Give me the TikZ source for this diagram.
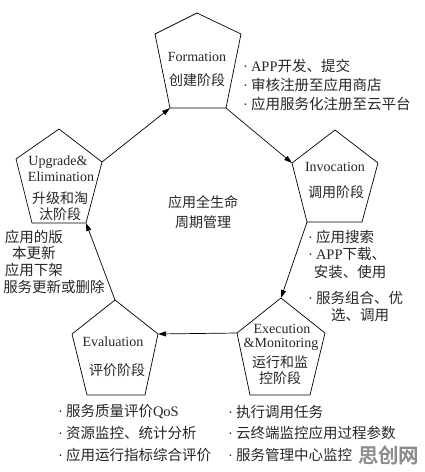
\documentclass[tikz,border=0pt]{standalone}
\usepackage{fontspec}
\setmainfont{Liberation Serif}
\newfontfamily\cjk{Noto Sans CJK SC}
\newfontfamily\cjkbold[FakeBold=3]{Noto Sans CJK SC}
\usetikzlibrary{arrows.meta}
\tikzset{
  pent/.style={draw=black, line width=0.7pt},
  conn/.style={draw=black, line width=0.7pt, -{Triangle[length=8pt,width=5pt]}},
  lbl/.style={inner sep=0pt, text=black!85, font=\fontsize{14}{16}\selectfont},
  item/.style={inner sep=0pt, anchor=west, text=black!85, font=\fontsize{14.5}{17}\selectfont},
  itemc/.style={inner sep=0pt, text=black!85, font=\fontsize{14.5}{17}\selectfont},
  wm/.style={inner sep=0pt, anchor=west, text=black!45, font=\fontsize{20}{22}\selectfont\cjkbold}
}
\begin{document}
\begin{tikzpicture}[x=1pt,y=-1pt]
\useasboundingbox (0,0) rectangle (424,472);
% Formation
\coordinate (Ft) at (197,13); \coordinate (Fl) at (155,34); \coordinate (Fr) at (241,34);
\coordinate (Fbl) at (170,108); \coordinate (Fbr) at (226,108);
% Invocation
\coordinate (It) at (335,130); \coordinate (Il) at (292,163); \coordinate (Ir) at (378,163);
\coordinate (Ibl) at (307,222); \coordinate (Ibr) at (362,222);
% Upgrade
\coordinate (Ut) at (59,129); \coordinate (Ul) at (16,159); \coordinate (Ur) at (102,162);
\coordinate (Ubl) at (32,223); \coordinate (Ubr) at (86,223);
% Evaluation
\coordinate (Et) at (115,300); \coordinate (El) at (72,334); \coordinate (Er) at (158,334);
\coordinate (Ebl) at (87,395); \coordinate (Ebr) at (145,395);
% Execution
\coordinate (Xt) at (281,298); \coordinate (Xl) at (237,333); \coordinate (Xr) at (325,333);
\coordinate (Xbl) at (250,395); \coordinate (Xbr) at (310,395);

\draw[pent] (Ft) -- (Fr) -- (Fbr) -- (Fbl) -- (Fl) -- cycle;
\draw[pent] (It) -- (Ir) -- (Ibr) -- (Ibl) -- (Il) -- cycle;
\draw[pent] (Ut) -- (Ur) -- (Ubr) -- (Ubl) -- (Ul) -- cycle;
\draw[pent] (Et) -- (Er) -- (Ebr) -- (Ebl) -- (El) -- cycle;
\draw[pent] (Xt) -- (Xr) -- (Xbr) -- (Xbl) -- (Xl) -- cycle;

\draw[conn] (Fbr) -- (Il);
\draw[conn] (Ibl) -- (Xt);
\draw[conn] (Xl) -- (Er);
\draw[conn] (Et) -- (Ubr);
\draw[conn] (Ur) -- (Fbl);

% pentagon labels
\node[lbl] (f1) at (197,57) {Formation};
\node[lbl] (f2) at (197,80) {\cjk 创建阶段};
\node[lbl] (i1) at (335,167) {Invocation};
\node[lbl] (i2) at (336,192) {\cjk 调用阶段};
\node[lbl] (u1) at (58,162) {Upgrade\&};
\node[lbl] (u2) at (61,177) {Elimination};
\node[lbl] (u3) at (60,198) {\cjk 升级和淘};
\node[lbl] (u4) at (60,214) {\cjk 汰阶段};
\node[lbl] (e1) at (113,342) {Evaluation};
\node[lbl] (e2) at (117,370) {\cjk 评价阶段};
\node[lbl] (x1) at (282,329) {Execution};
\node[lbl] (x2) at (281,344) {\&Monitoring};
\node[lbl] (x3) at (280,362) {\cjk 运行和监};
\node[lbl] (x4) at (280,378) {\cjk 控阶段};

% centre
\node[lbl] (c1) at (203,202) {\cjk 应用全生命};
\node[lbl] (c2) at (203,222) {\cjk 周期管理};

% Formation list
\node[item] (fa) at (243,66) {·\hspace{3pt}APP{\cjk 开发、提交}};
\node[item] (fb) at (243,85) {·\hspace{3pt}{\cjk 审核注册至应用商店}};
\node[item] (fc) at (243,104) {·\hspace{3pt}{\cjk 应用服务化注册至云平台}};

% Invocation list
\node[item] (ia) at (308,237) {·\hspace{3pt}{\cjk 应用搜索}};
\node[item] (ib) at (308,254) {·\hspace{3pt}APP{\cjk 下载、}};
\node[itemc] (ib2) at (350,272) {\cjk 安装、使用};
\node[item] (ic) at (308,298) {·\hspace{3pt}{\cjk 服务组合、优}};
\node[itemc] (ic2) at (360,315) {\cjk 选、调用};

% Upgrade list
\node[itemc] (ua) at (34,237) {\cjk 应用的版};
\node[itemc] (ua2) at (34,253) {\cjk 本更新};
\node[itemc] (ub) at (34,270) {\cjk 应用下架};
\node[itemc] (uc) at (54,287) {\cjk 服务更新或删除};

% Evaluation list
\node[item] (ea) at (58,412) {·\hspace{3pt}{\cjk 服务质量评价}QoS};
\node[item] (eb) at (58,433) {·\hspace{3pt}{\cjk 资源监控、统计分析}};
\node[item] (ec) at (58,455) {·\hspace{3pt}{\cjk 应用运行指标综合评价}};

% Execution list
\node[item] (xa) at (228,412) {·\hspace{3pt}{\cjk 执行调用任务}};
\node[item] (xb) at (228,433) {·\hspace{3pt}{\cjk 云终端监控应用过程参数}};
\node[item] (xc) at (228,455) {·\hspace{3pt}{\cjk 服务管理中心监控}};
\node[wm] (wmk) at (358,455) {思创网};
\end{tikzpicture}
\end{document}
